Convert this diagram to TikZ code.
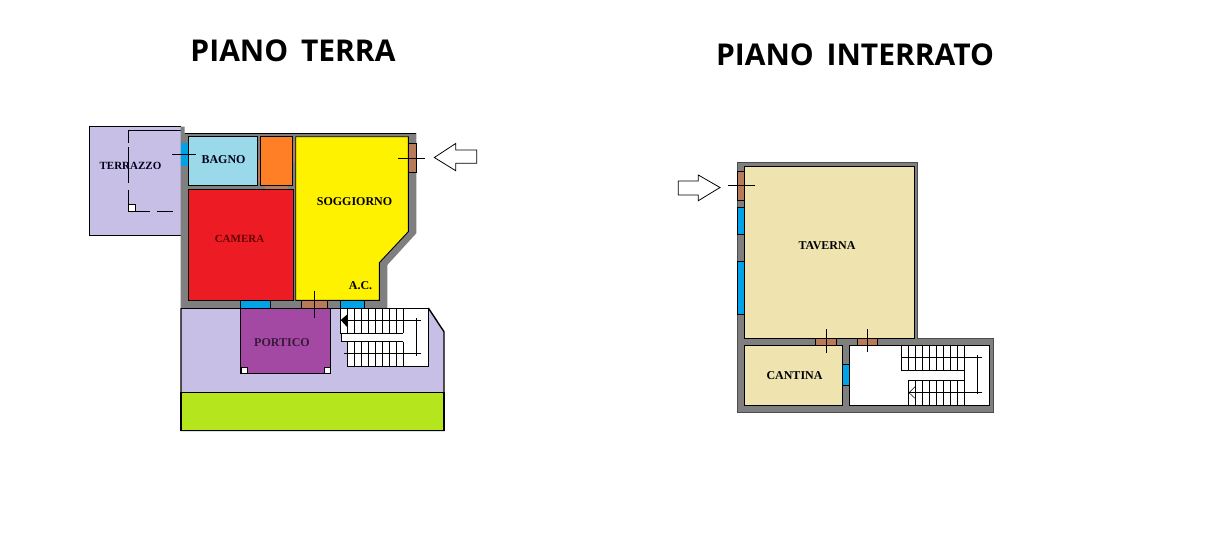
\documentclass[tikz,border=0pt]{standalone}
\usepackage{fontspec}
\setmainfont{Liberation Serif}
\newfontfamily\titlefont{Open Sans}
\usetikzlibrary{positioning}
\definecolor{wallgrey}{HTML}{7F7F7F}
\definecolor{lilac}{HTML}{C8BFE7}
\definecolor{paleblue}{HTML}{99D9EA}
\definecolor{orangeroom}{HTML}{FF7F27}
\definecolor{redroom}{HTML}{ED1C24}
\definecolor{yellowroom}{HTML}{FFF200}
\definecolor{purpleroom}{HTML}{A349A4}
\definecolor{lawn}{HTML}{B5E61D}
\definecolor{tanroom}{HTML}{EFE4B0}
\definecolor{glass}{HTML}{00A2E8}
\definecolor{doorbrown}{HTML}{B97A57}
\tikzset{
    titlenode/.style = {draw=none, fill=none, inner sep=0pt, font=\titlefont\bfseries\fontsize{30}{30}\selectfont},
    textnode/.style = {draw=none, fill=none, inner sep=0pt, font=\bfseries\fontsize{12}{12}\selectfont},
    smalltextnode/.style = {draw=none, fill=none, inner sep=0pt, font=\bfseries\fontsize{11}{11}\selectfont},
    room/.style = {draw=black, line width=0.9pt},
    wall/.style = {fill=wallgrey, draw=none},
    opening/.style = {draw=black, line width=0.5pt},
    thinline/.style = {draw=black, line width=1pt},
    arrownode/.style = {draw=black, line width=0.8pt, fill=white},
    pillar/.style = {draw=black, line width=0.6pt, fill=white}
}
\begin{document}
\begin{tikzpicture}[x=1pt, y=-1pt]
\useasboundingbox (0,0) rectangle (1211,542);
% titles
\node[titlenode] (titleterra) at (293,51) {PIANO\, TERRA};
\node[titlenode] (titleinterrato) at (855,54.5) {PIANO\, INTERRATO};
% piano terra: garden
\fill[lilac] (181,308) -- (428.3,308) -- (444,331.7) -- (444,392.3) -- (181,392.3) -- cycle;
\draw[thinline, line width=1.4pt] (181,308) -- (181,430.3) -- (444,430.3) -- (444,331.7) -- (428.3,308);
\draw[room, fill=lawn] (181,392.3) rectangle (444,430.3);
\draw[line width=1.4pt] (181,392.3) -- (181,430.3) -- (444,430.3) -- (444,392.3);
% terrace
\draw[room, fill=lilac] (180.7,126.7) -- (89.3,126.7) -- (89.3,235.3) -- (180.7,235.3);
\draw[thinline] (180.7,130) -- (128.3,130) -- (128.3,143);
\draw[thinline] (128.3,147) -- (128.3,183);
\draw[thinline] (128.3,190) -- (128.3,204);
\draw[thinline] (135,211) -- (150,211);
\draw[thinline] (157,211) -- (172.7,211);
\node[pillar, minimum size=7pt, inner sep=0pt, anchor=north west] (terracepost) at (128.3,204) {};
% walls
\fill[wall] (180.7,126.7) -- (184.7,126.7) -- (184.7,133) -- (416.3,133) -- (416.3,233.3)
  -- (387.3,265) -- (387.3,308) -- (180.7,308) -- cycle;
\draw[line width=1pt] (184.7,133) -- (416.3,133);
\draw[line width=1pt] (180.7,308) -- (387.3,308);
% rooms
\draw[room, fill=paleblue] (188.3,136.7) rectangle (257.7,185.3);
\draw[room, fill=orangeroom] (260,136.7) rectangle (292.7,185.3);
\draw[room, fill=redroom] (188.3,189) rectangle (293,300.3);
\draw[room, fill=yellowroom] (295.7,136.7) -- (408.3,136.7) -- (408.3,231.7) -- (379.3,262.7)
  -- (379.3,300.3) -- (295.7,300.3) -- cycle;
% portico
\draw[room, line width=1pt, fill=purpleroom] (240.7,308) rectangle (330.3,373.3);
\node[pillar, minimum size=6pt, inner sep=0pt, anchor=south west] (portpostl) at (240.7,373.3) {};
\node[pillar, minimum size=6pt, inner sep=0pt, anchor=south east] (portpostr) at (330.3,373.3) {};
% openings
\fill[glass] (180.7,143.3) rectangle (187.8,166);
\draw[opening, fill=glass] (240.7,300.7) rectangle (270,308);
\draw[opening, fill=glass] (340,300.7) rectangle (364.3,308);
\draw[opening, fill=doorbrown] (301.7,300.7) rectangle (327.3,308);
\draw[opening, fill=doorbrown] (408.3,143.3) rectangle (416.3,172.7);
\fill[doorbrown] (265,185.8) rectangle (288,188.5);
\fill[doorbrown] (293.1,141) rectangle (295.3,162);
\fill[doorbrown] (258.1,160) rectangle (259.6,182);
% door lines
\draw[thinline] (172.3,154.3) -- (196,154.3);
\draw[thinline] (398.3,158.3) -- (425,158.3);
\draw[thinline] (314.3,290.5) -- (314.3,317.7);
% entrance arrow
\draw[arrownode] (434.3,157.5) -- (455.7,143.5) -- (455.7,150) -- (476.7,150) -- (476.7,163.3)
  -- (455.7,163.3) -- (455.7,170.7) -- cycle;
% stairs
\draw[thinline, fill=white] (340.7,308) -- (428.3,308) -- (428.3,366.7) -- (347.7,366.7) -- (347.7,341.7)
  -- (341.7,341.7) -- (341.7,333.3) -- (340.7,333.3) -- cycle;
\draw[thinline] (341.7,333.3) -- (403.3,333.3);
\draw[thinline] (341.7,341.7) -- (403.3,341.7);
\foreach \x in {347.7,354.7,...,404} {
  \draw[thinline] (\x,308) -- (\x,333.3);
  \draw[thinline] (\x,341.7) -- (\x,366.7);
}
\draw[thinline] (340.7,320) -- (420.7,320);
\draw[thinline] (344,353.3) -- (420.7,353.3);
\draw[thinline] (416.7,318.3) -- (416.7,355.7);
\fill[black] (340.7,320) -- (347.7,314) -- (347.7,327.7) -- cycle;
% labels piano terra
\node[smalltextnode, text=black!90!blue] (terrazzo) at (130.5,165.5) {TERRAZZO};
\node[textnode, text=black!90!blue] (bagno) at (223.5,159.5) {BAGNO};
\node[smalltextnode, text=red!40!black] (camera) at (239.5,238.5) {CAMERA};
\node[textnode] (soggiorno) at (354.5,201.5) {SOGGIORNO};
\node[textnode] (ac) at (360.5,285.5) {A.C.};
\node[textnode, text=purpleroom!35!black] (portico) at (282,342.5) {PORTICO};
% piano interrato
\fill[wall] (737.3,162.3) -- (917.3,162.3) -- (917.3,338.3) -- (993.3,338.3) -- (993.3,412.3)
  -- (737.3,412.3) -- cycle;
\draw[line width=0.7pt, black!70] (737.3,162.3) -- (917.3,162.3) -- (917.3,338.3) -- (993.3,338.3) -- (993.3,412.3)
  -- (737.3,412.3) -- cycle;
\draw[room, fill=tanroom] (744.3,166.7) -- (914,166.7) -- (914,338.3) -- (744.3,338.3) -- cycle;
\draw[room, fill=tanroom] (744.3,345.7) rectangle (842.7,405.3);
\draw[room, fill=white] (849.3,345.7) rectangle (989.3,405.3);
\draw[opening, fill=doorbrown] (737.3,171.7) rectangle (744.3,200.7);
\draw[opening, fill=glass] (737.3,207.3) rectangle (744.3,234.3);
\draw[opening, fill=glass] (737.3,261.7) rectangle (744.3,314.3);
\draw[opening, fill=doorbrown] (815.7,338.3) rectangle (836.7,345.7);
\draw[opening, fill=doorbrown] (857.3,338.3) rectangle (877.7,345.7);
\draw[opening, fill=glass] (842.7,364.3) rectangle (849.3,385);
\draw[thinline] (728.3,185.7) -- (755,185.7);
\draw[thinline] (826.3,329) -- (826.3,352.7);
\draw[thinline] (867.3,329) -- (867.3,351.7);
\draw[arrownode] (720,187.5) -- (698.3,175) -- (698.3,181) -- (678.3,181) -- (678.3,195) -- (698.3,195)
  -- (698.3,200.7) -- cycle;
% stairs
\draw[thinline] (901.7,345.7) -- (901.7,370.7) -- (964.3,370.7) -- (964.3,380) -- (908.3,380) -- (908.3,405.3);
\draw[thinline] (964.3,380) -- (964.3,405.3);
\foreach \x in {908.3,915.3,...,964.5} {
  \draw[thinline] (\x,345.7) -- (\x,370.7);
  \draw[thinline] (\x,380) -- (\x,405.3);
}
\draw[thinline] (901.7,357.3) -- (981.7,357.3);
\draw[thinline] (909,392.7) -- (981.7,392.7);
\draw[thinline] (977.3,355) -- (977.3,394);
\draw[thinline, line width=0.5pt] (915.7,386) -- (909,392.7) -- (915.7,399);
% labels piano interrato
\node[textnode, text=black] (taverna) at (827,245.5) {TAVERNA};
\node[textnode, text=black] (cantina) at (794.5,375.5) {CANTINA};
\end{tikzpicture}
\end{document}
